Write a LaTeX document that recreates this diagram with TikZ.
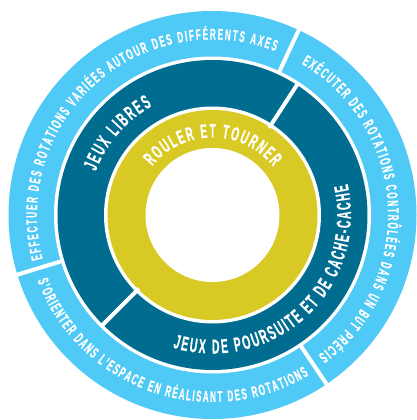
\documentclass[tikz,border=0pt]{standalone}
\usepackage{fontspec}
\usetikzlibrary{decorations.text}
\newfontfamily\labfont{Liberation Sans}[FakeStretch=0.52,FakeBold=0.5]
\definecolor{ringlight}{HTML}{4FC9F5}
\definecolor{ringdark}{HTML}{006C8F}
\definecolor{ringyellow}{HTML}{D8C924}
\newcommand\outerlab{\labfont\bfseries\fontsize{15.5}{15}\selectfont\color{white}}
\newcommand\darklab{\labfont\bfseries\fontsize{20}{20}\selectfont\color{white}}
\newcommand\yellowlab{\labfont\bfseries\fontsize{19.5}{19}\selectfont\color{white}}
\tikzset{
  sep/.style={white,line width=4pt},
  arclabel/.style={decorate,decoration={text along path,text align={fit to path},text={#1}}}
}
\begin{document}
\begin{tikzpicture}[x=1pt,y=1pt]
\useasboundingbox (-212.5,-205) rectangle (204.5,215);
% rings
\fill[ringlight] (0,0) circle (204);
\fill[white] (0,0) circle (158.5);
\fill[ringdark] (0,0) circle (155);
\fill[white] (0,0) circle (108.5);
\fill[ringyellow] (0,0) circle (105);
\fill[white] (0,0) circle (67);
% separators
\foreach \a in {65,197,304} \draw[sep] (\a:156) -- (\a:210);
\foreach \a in {57,225} \draw[sep] (\a:104) -- (\a:157);
% outer labels
\path[arclabel={|\outerlab|EFFECTUER DES ROTATIONS VARIÉES AUTOUR DES DIFFÉRENTS AXES}]
  (194.5:175.5) arc[start angle=194.5,end angle=69,radius=175.5];
\path[arclabel={|\outerlab|EXÉCUTER DES ROTATIONS CONTRÔLÉES DANS UN BUT PRÉCIS}]
  (59.5:175.5) arc[start angle=59.5,end angle=-53,radius=175.5];
\path[arclabel={|\outerlab|S’ORIENTER DANS L’ESPACE EN RÉALISANT DES ROTATIONS}]
  (200.5:187) arc[start angle=200.5,end angle=301,radius=187];
% dark ring labels
\path[arclabel={|\darklab|JEUX LIBRES}]
  (159.5:124.5) arc[start angle=159.5,end angle=119,radius=124.5];
\path[arclabel={|\darklab|JEUX DE POURSUITE ET DE CACHE-CACHE}]
  (-106.7:138.5) arc[start angle=-106.7,end angle=13,radius=138.5];
% yellow ring label
\path[arclabel={|\yellowlab|ROULER ET TOURNER}]
  (141:77.5) arc[start angle=141,end angle=38.5,radius=77.5];
\end{tikzpicture}
\end{document}
